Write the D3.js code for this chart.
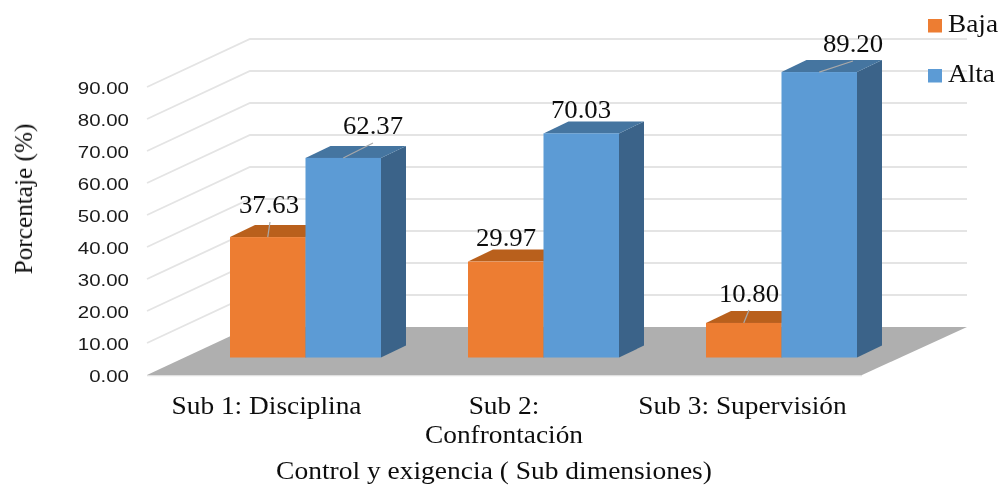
<!DOCTYPE html>
<html><head><meta charset="utf-8">
<style>html,body{margin:0;padding:0;background:#fff}svg{display:block}</style>
<script src="https://cdn.jsdelivr.net/npm/d3@7"></script></head><body>
<svg id="c" width="1000" height="485"></svg>
<script>
const categories = ["Sub 1: Disciplina", "Sub 2: Confrontación", "Sub 3: Supervisión"];
const categoryLines = [["Sub 1: Disciplina"], ["Sub 2:", "Confrontación"], ["Sub 3: Supervisión"]];
const seriesNames = ["Baja", "Alta"];
const baja = [37.63, 29.97, 10.80];
const alta = [62.37, 70.03, 89.20];
const ticks = [0,10,20,30,40,50,60,70,80,90];
const faceColors = {Baja:["#ed7d31","#b9611f","#8f4a17"], Alta:["#5b9bd5","#4474a0","#3a6489"]};

const svg = d3.select("#c");
const defs = svg.append("defs");
defs.append("filter").attr("id","soft").attr("x",0).attr("y",0).attr("width","100%").attr("height","100%").append("feGaussianBlur").attr("stdDeviation",0.45);
const root = svg.append("g").attr("filter","url(#soft)");
const serif = "'Liberation Serif', serif", sans = "'Liberation Sans', sans-serif";

function stretched(x, yy, txt, size, sx, anchor="middle"){
  return root.append("text").attr("transform",`translate(${x},${yy}) scale(${sx},1)`)
    .attr("text-anchor",anchor).attr("font-family",serif).attr("font-size",size).attr("fill","#111").text(txt);
}

const y = d3.scaleLinear().domain([0,90]).range([375,87]);
const floorFront = 375, floorBack = 327, wallX0 = 147, wallX1 = 250, wallX2 = 967, floorFrontRight = 862;
const depthShift = {x: wallX1-wallX0, y: floorBack-floorFront};

const grid = root.append("g").attr("fill","none").attr("stroke","#e4e4e4").attr("stroke-width",1.8);
ticks.forEach(t=>{
  if(t===0) return;
  grid.append("path").attr("d",d3.line()([[wallX0,y(t)],[wallX1,y(t)+depthShift.y],[wallX2,y(t)+depthShift.y]]));
});
root.append("path").attr("fill","#afafaf")
  .attr("d",d3.line()([[wallX0,floorFront],[wallX1,floorBack],[wallX2,floorBack],[floorFrontRight,floorFront]])+"Z");
root.append("line").attr("x1",wallX0).attr("x2",floorFrontRight).attr("y1",floorFront+.7).attr("y2",floorFront+.7).attr("stroke","#e0e0e0").attr("stroke-width",1.2);

const x0 = d3.scaleBand().domain(categories).range([148, 862]);
const barW = 75.5;
const x1 = d3.scaleBand().domain(seriesNames).range([82, 82+barW*2]);
const barBase = 357.5, unit = (y(0)-y(90))/90;
const dx = 25, dy = 12;
const seriesVals = {Baja:baja, Alta:alta};
seriesNames.forEach(s=>{
  categories.forEach((c,i)=>{
    const v = seriesVals[s][i], l = x0(c)+x1(s), r = l+barW, t = barBase-v*unit, g = root.append("g"), col = faceColors[s];
    g.append("path").attr("fill",col[2]).attr("d",d3.line()([[r,t],[r+dx,t-dy],[r+dx,barBase-dy],[r,barBase]])+"Z");
    g.append("path").attr("fill",col[1]).attr("d",d3.line()([[l,t],[l+dx,t-dy],[r+dx,t-dy],[r,t]])+"Z");
    g.append("rect").attr("x",l).attr("y",t).attr("width",barW).attr("height",v*unit).attr("fill",col[0]);
  });
});

const yAxis = root.append("g").attr("transform","translate(129,1)").call(d3.axisLeft(y).tickValues(ticks).tickSize(0).tickFormat(d3.format(".2f")));
yAxis.select(".domain").remove();
yAxis.selectAll("text").attr("font-family",sans).attr("font-size",16.5).attr("fill","#1a1a1a").attr("dy","0.34em").attr("x",0).attr("transform","scale(1.24,1)");

const catCx = [266.5,504,742.5];
categories.forEach((c,i)=>{
  categoryLines[i].forEach((ln,j)=>stretched(catCx[i],414+j*29,ln,25,1.095));
});
stretched(494,478.5,"Control y exigencia ( Sub dimensiones)",25,1.1);
root.append("text").attr("transform","translate(32,199) rotate(-90) scale(1.01,1)").attr("text-anchor","middle").attr("font-family",serif).attr("font-size",25).attr("fill","#111").text("Porcentaje (%)");

const labelPos = {Baja:[[269,213],[506,246],[749,302]], Alta:[[373,134],[581,118],[853,52]]};
const leaderEnd = {Baja:[[270,222],null,[749,310]], Alta:[[373,143],null,[853,61]]};
seriesNames.forEach(s=>{
  categories.forEach((c,i)=>{
    const v = seriesVals[s][i], l = x0(c)+x1(s), t = barBase-v*unit, e = leaderEnd[s][i];
    if(e) root.append("line").attr("x1",l+barW/2).attr("y1",t).attr("x2",e[0]).attr("y2",e[1]).attr("stroke","#a9a9a9").attr("stroke-width",1.2);
    stretched(labelPos[s][i][0],labelPos[s][i][1],v.toFixed(2),26,1.03);
  });
});

seriesNames.forEach((s,i)=>{
  const ly = [19,69][i];
  root.append("rect").attr("x",928).attr("y",ly).attr("width",14).attr("height",13.5).attr("fill",faceColors[s][0]);
  stretched(948,ly+13,s,26,1.05,"start");
});
</script></body></html>
